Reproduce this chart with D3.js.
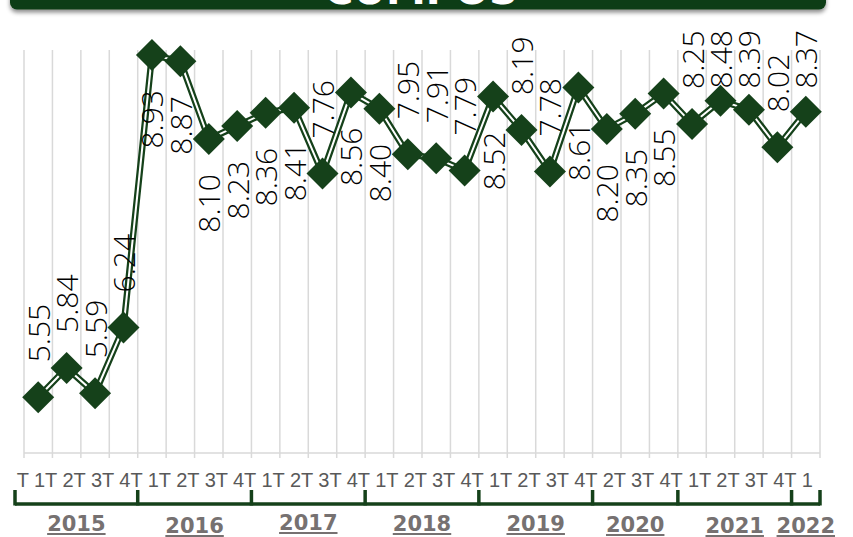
<!DOCTYPE html>
<html>
  <head>
    <meta http-equiv="Content-Type" content="text/html;charset=utf-8"/>
    <title>Chart</title>
    <script src="https://d3js.org/d3.v7.min.js"></script>
    <style>
      body { margin: 0; background: #fff; }
      svg { display: block; }
    </style>
  </head>
  <body>
    <div id="chart"></div>
    <script type="text/javascript">

      const quarters = ["T 1","T 2","T 3","T 4", "T 1","T 2","T 3","T 4", "T 1","T 2","T 3","T 4",
                        "T 1","T 2","T 3","T 4", "T 1","T 2","T 3","T 4", "T 2","T 3","T 4",
                        "T 1","T 2","T 3","T 4", "T 1"]
      const values = [5.55, 5.84, 5.59, 6.24, 8.93, 8.87, 8.10, 8.23, 8.36, 8.41, 7.76, 8.56, 8.40, 7.95,
                      7.91, 7.79, 8.52, 8.19, 7.78, 8.61, 8.20, 8.35, 8.55, 8.25, 8.48, 8.39, 8.02, 8.37]
      const years = ["2015","2016","2017","2018","2019","2020","2021","2022"]
      const quartersPerYear = [4, 4, 4, 4, 4, 3, 4, 1]
      const title = "CUMPOS"

      // where excel put each data label
      const labelSide = ["up","up","up","up","down","down","down","down","down","down","up","down","down","up",
                         "up","up","down","up","up","down","down","down","down","up","up","up","up","up"]
      const yearShift = [0, 2, -1, 0, 0, 1, 2, 2]

      const width = 853,
            height = 537,
            green = '#15411a',
            grid = '#d9d9d9'

      const svg = d3.select('#chart').append('svg').attr('width', width).attr('height', height)

      const x = d3.scaleBand()
                  .domain(d3.range(values.length))
                  .range([24, 820])
      const y = d3.scaleLinear()
                  .domain([5, 9])
                  .range([453, 48])
      const cx = i => x(i) + x.bandwidth() / 2

      // title banner, mostly cut off at the top
      const defs = svg.append('defs')
      const f = defs.append('filter').attr('id', 'shadow').attr('x', '-5%').attr('y', '-50%').attr('width', '110%').attr('height', '200%')
      f.append('feDropShadow').attr('dx', 0).attr('dy', 3).attr('stdDeviation', 2).attr('flood-color', '#000').attr('flood-opacity', 0.45)
      svg.append('rect')
        .attr('x', 10).attr('y', -40).attr('width', 816).attr('height', 49.5).attr('rx', 7)
        .attr('fill', '#0f3d13').attr('filter', 'url(#shadow)')
      svg.append('text')
        .attr('x', 421).attr('y', 4)
        .attr('text-anchor', 'middle')
        .attr('font-family', 'DejaVu Sans')
        .attr('font-weight', 'bold')
        .attr('font-size', 40)
        .attr('fill', '#fff')
        .text(title)

      // vertical gridlines between categories
      const bounds = d3.range(values.length).map(i => x(i)).concat([x.range()[1]])
      svg.append('g').selectAll('line')
        .data(bounds)
        .enter()
        .append('line')
        .attr('x1', d => d).attr('x2', d => d)
        .attr('y1', 50).attr('y2', 458)
        .attr('stroke', grid).attr('stroke-width', 1.5)
      svg.append('line')
        .attr('x1', x.range()[0]).attr('x2', x.range()[1])
        .attr('y1', y(5)).attr('y2', y(5))
        .attr('stroke', grid).attr('stroke-width', 1.5)

      // quarter labels
      svg.append('g').selectAll('text')
        .data(quarters)
        .enter()
        .append('text')
        .attr('x', (d, i) => cx(i) + 7)
        .attr('y', 487)
        .attr('text-anchor', 'end')
        .attr('font-family', 'Liberation Sans, Arial, sans-serif')
        .attr('font-size', 20)
        .attr('fill', '#595959')
        .text(d => d)

      // year brackets
      const starts = []
      let acc = 0
      quartersPerYear.forEach(n => { starts.push(acc); acc += n })
      const yearBounds = starts.map(s => x(s)).concat([x.range()[1]])
      yearBounds[0] = yearBounds[0] - 9
      const br = svg.append('g').attr('stroke', green).attr('stroke-width', 3.5).attr('fill', 'none')
      br.append('line')
        .attr('x1', yearBounds[0]).attr('x2', yearBounds[yearBounds.length - 1])
        .attr('y1', 504).attr('y2', 504)
      br.selectAll('line.tick')
        .data(yearBounds)
        .enter()
        .append('line')
        .attr('class', 'tick')
        .attr('x1', d => d).attr('x2', d => d)
        .attr('y1', 490).attr('y2', 505.5)

      const yl = svg.append('g')
      years.forEach((yr, i) => {
        let mid = (yearBounds[i] + yearBounds[i + 1]) / 2
        const t = yl.append('text')
          .attr('y', 531 + yearShift[i])
          .attr('text-anchor', 'middle')
          .attr('font-family', 'DejaVu Sans')
          .attr('font-weight', 'bold')
          .attr('font-size', 21)
          .attr('fill', '#767171')
          .text(yr)
        const w = t.node().getComputedTextLength()
        if (mid + w / 2 > width - 6) mid = width - 6 - w / 2
        t.attr('x', mid)
        yl.append('line')
          .attr('x1', mid - w / 2).attr('x2', mid + w / 2)
          .attr('y1', 534 + yearShift[i]).attr('y2', 534 + yearShift[i])
          .attr('stroke', '#767171').attr('stroke-width', 1.8)
      })

      // double line: dark outline with a white core
      const line = d3.line()
        .x((d, i) => cx(i))
        .y(d => y(d))
      svg.append('path')
        .datum(values)
        .attr('d', line)
        .attr('fill', 'none').attr('stroke', green).attr('stroke-width', 6.5)
      svg.append('path')
        .datum(values)
        .attr('d', line)
        .attr('fill', 'none').attr('stroke', '#fff').attr('stroke-width', 2)

      // diamond markers
      const diamond = d3.symbol().type(d3.symbolSquare).size(512)
      svg.append('g').selectAll('path')
        .data(values)
        .enter()
        .append('path')
        .attr('d', diamond)
        .attr('transform', (d, i) => 'translate(' + cx(i) + ',' + y(d) + ') rotate(45)')
        .attr('fill', green)

      // rotated data labels
      svg.append('g').selectAll('text')
        .data(values)
        .enter()
        .append('text')
        .attr('font-family', 'Open Sans, sans-serif')
        .attr('font-weight', 300)
        .attr('font-size', 30)
        .attr('fill', '#000')
        .attr('dominant-baseline', 'central')
        .text(d => d.toFixed(2))
        .each(function(d, i) {
          const len = this.getComputedTextLength()
          const px = cx(i), py = y(d)
          let ty, anchor
          if (labelSide[i] === 'up') {
            ty = Math.max(py - 35, 30 + len)
            anchor = 'start'
          } else {
            ty = py + 35
            anchor = 'end'
          }
          d3.select(this)
            .attr('text-anchor', anchor)
            .attr('transform', 'translate(' + px + ',' + ty + ') rotate(-90)')
        })

    </script>
  </body>
</html>
